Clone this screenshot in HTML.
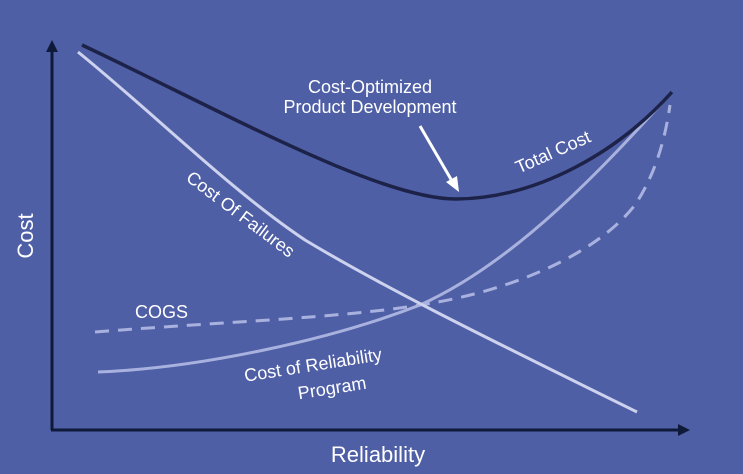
<!DOCTYPE html>
<html><head><style>
html,body{margin:0;padding:0;background:#4f5fa6;}
svg{display:block}
text{font-family:"Liberation Sans",Arial,sans-serif;fill:#fff}
</style></head><body>
<svg width="743" height="474" viewBox="0 0 743 474" xmlns="http://www.w3.org/2000/svg">
<rect width="743" height="474" fill="#4f5fa6"/>
<line x1="52" y1="430" x2="52" y2="52" stroke="#0f1a3a" stroke-width="3"/>
<polygon points="52,40 46,52 58,52" fill="#0f1a3a"/>
<line x1="51" y1="430" x2="678" y2="430" stroke="#0f1a3a" stroke-width="3"/>
<polygon points="690,430 678,424 678,436" fill="#0f1a3a"/>
<path d="M98,372 C200,368 330,340 420,305 C520,260 610,160 672,92" fill="none" stroke="#a9b1de" stroke-width="3"/>
<path d="M95,332 C220,322 340,318 420,305 C520,290 600,250 635,205 C655,175 665,140 670,105" fill="none" stroke="#a9b1de" stroke-width="3" stroke-dasharray="14,9"/>
<path d="M78,52 C150,110 230,190 305,240 C380,285 470,330 637,412" fill="none" stroke="#cdd2ee" stroke-width="3"/>
<path d="M82,45 C220,110 380,200 457,199 C540,198 620,150 672,92" fill="none" stroke="#1c2248" stroke-width="3.5"/>
<line x1="420" y1="126" x2="452" y2="181" stroke="#fff" stroke-width="3"/>
<polygon points="459,192 446,182 457,176" fill="#fff"/>
<text x="27" y="236" font-size="22" text-anchor="middle" transform="rotate(-90 27 236)" dominant-baseline="middle">Cost</text>
<text x="378" y="462" font-size="22" text-anchor="middle">Reliability</text>
<text x="370" y="93" font-size="18" text-anchor="middle">Cost-Optimized</text>
<text x="370" y="113" font-size="18" text-anchor="middle">Product Development</text>
<text x="553" y="158" font-size="18" text-anchor="middle" transform="rotate(-24 553 152)">Total Cost</text>
<text x="240" y="220" font-size="18" text-anchor="middle" transform="rotate(37 240 215)">Cost Of Failures</text>
<text x="135" y="318" font-size="18">COGS</text>
<text x="313" y="371" font-size="18" text-anchor="middle" transform="rotate(-9 313 365)">Cost of Reliability</text>
<text x="332" y="394" font-size="18" text-anchor="middle" transform="rotate(-9 332 388)">Program</text>
</svg>
</body></html>
